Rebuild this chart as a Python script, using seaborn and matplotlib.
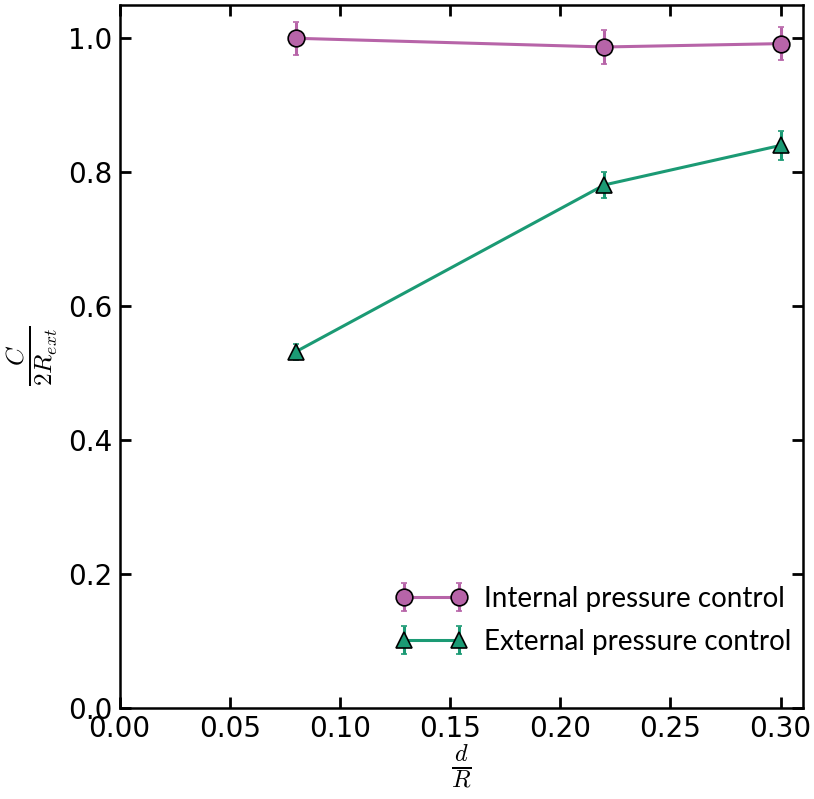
import numpy as np
import pandas as pd
import matplotlib
matplotlib.use("Agg")
import matplotlib.pyplot as plt
import seaborn as sns

# ratio d/R
d_over_r = [0.08, 0.22, 0.30]

internal_c = [1.000, 0.987, 0.992]
internal_err = [0.025, 0.025, 0.025]

external_c = [0.532, 0.781, 0.840]
external_err = [0.012, 0.020, 0.022]

series_labels = ["Internal pressure control", "External pressure control"]
x_ticks = [0.00, 0.05, 0.10, 0.15, 0.20, 0.25, 0.30]
y_ticks = [0.0, 0.2, 0.4, 0.6, 0.8, 1.0]

sns.set_style("ticks")
plt.rcParams['font.family'] = ['DejaVu Sans']
plt.rcParams['mathtext.fontset'] = 'cm'
plt.rcParams['text.color'] = 'black'
plt.rcParams['axes.labelcolor'] = 'black'
plt.rcParams['xtick.color'] = 'black'
plt.rcParams['ytick.color'] = 'black'
plt.rcParams['axes.edgecolor'] = 'black'

df = pd.DataFrame({
    'x': d_over_r * 2,
    'y': internal_c + external_c,
    'err': internal_err + external_err,
    'group': [series_labels[0]] * 3 + [series_labels[1]] * 3,
})

colors = {series_labels[0]: '#b764a8', series_labels[1]: '#1b9a74'}
marks = {series_labels[0]: 'o', series_labels[1]: '^'}

fig = plt.figure(figsize=(8.14, 7.99), dpi=100)
ax = fig.add_axes([0.147, 0.114, 0.839, 0.880])

for name, sub in df.groupby('group', sort=False):
    ax.errorbar(sub['x'], sub['y'], yerr=sub['err'], fmt='-', marker=marks[name],
                color=colors[name], mfc=colors[name], mec='black', mew=1.2,
                ms=12, lw=2.2, elinewidth=2.2, capsize=2.5, capthick=1.5,
                ecolor=colors[name], label=name, zorder=3)

ax.set_xlim(0, 0.31)
ax.set_ylim(0, 1.05)
ax.set_xticks(x_ticks)
ax.set_yticks(y_ticks)
ax.set_xticklabels(['%.2f' % t for t in x_ticks], fontfamily='DejaVu Sans', fontsize=20)
ax.set_yticklabels(['%.1f' % t for t in y_ticks], fontfamily='DejaVu Sans', fontsize=20)
ax.tick_params(direction='in', length=8, width=2, top=True, right=True, pad=5,
               colors='black')
for sp in ax.spines.values():
    sp.set_linewidth(1.8)
    sp.set_color('black')
    sp.set_visible(True)

ax.set_xlabel(r'$\frac{d}{R}$', fontsize=25, labelpad=0)
ax.set_ylabel(r'$\frac{C}{2R_{ext}}$', fontsize=26, labelpad=6)

leg = ax.legend(loc='lower right', frameon=False, numpoints=2,
                prop={'family': 'Lato', 'size': 20}, handlelength=2.6,
                borderaxespad=0.0, bbox_to_anchor=(1.0, 0.06), handletextpad=0.6,
                labelspacing=0.6)

fig.savefig('out.png', dpi=100)
